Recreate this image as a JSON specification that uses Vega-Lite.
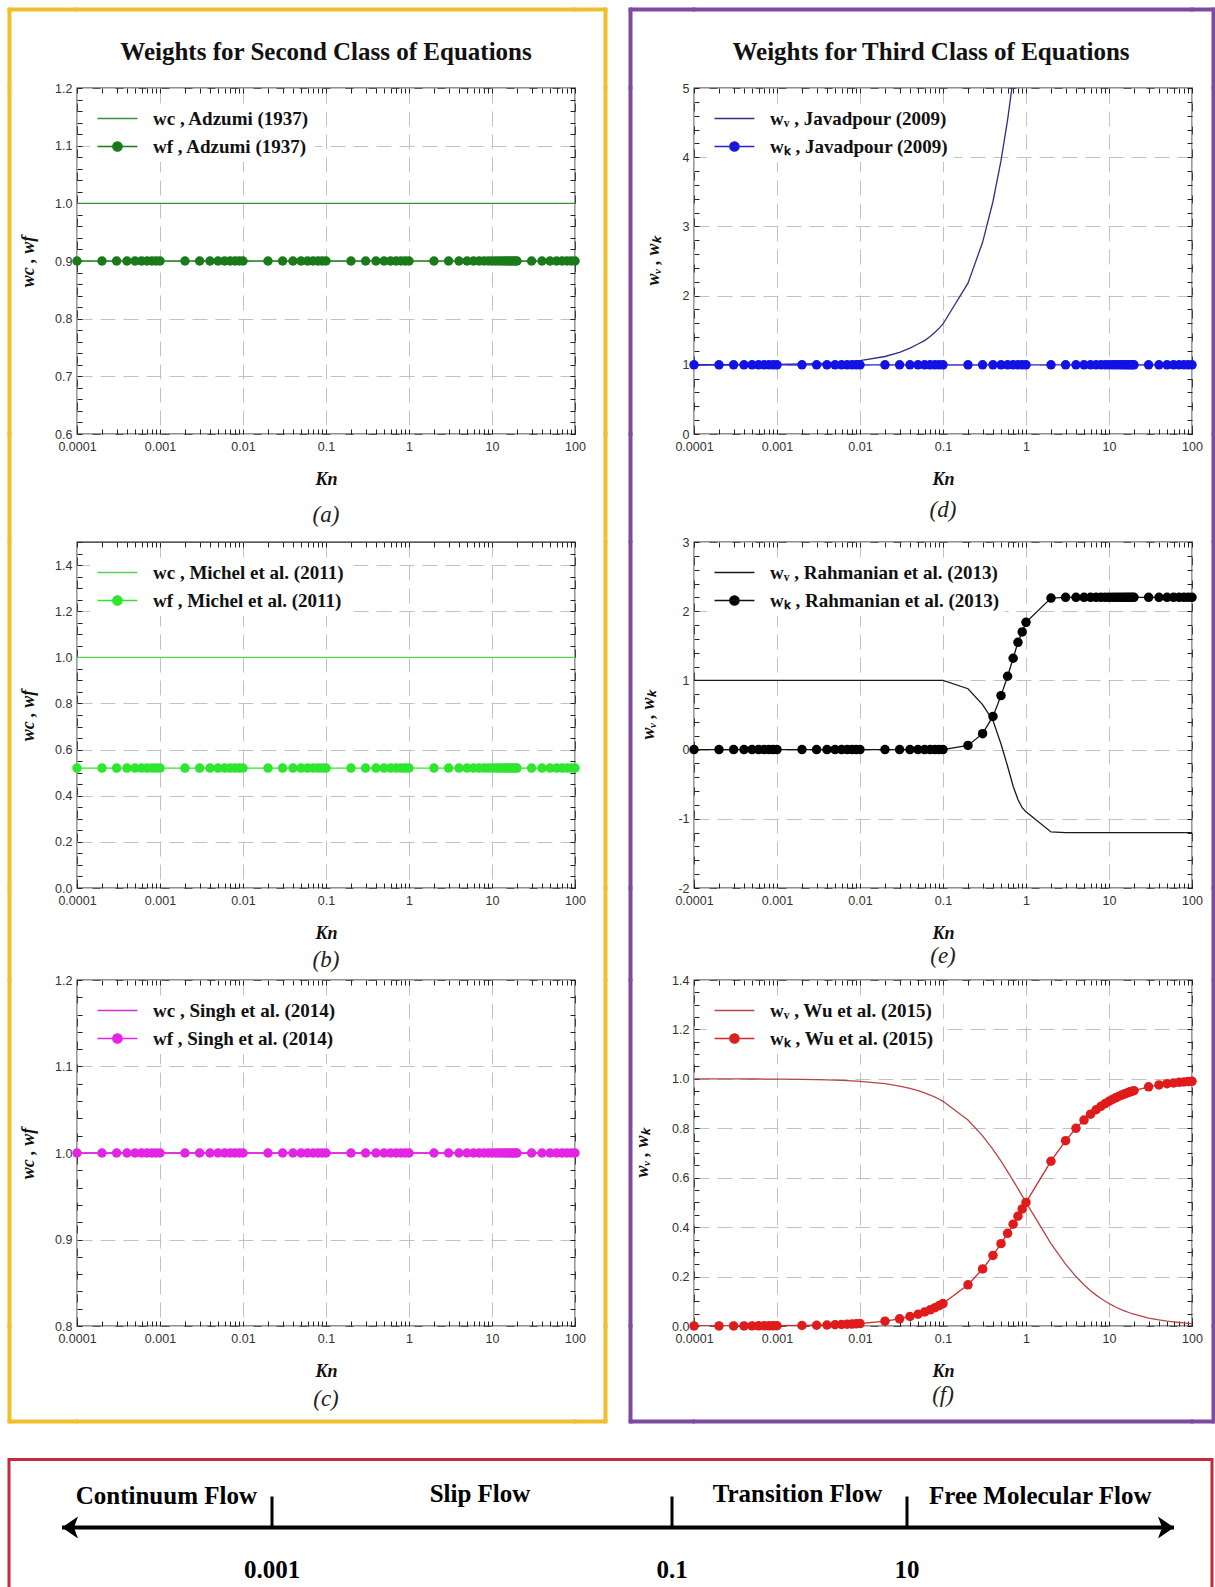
{
"$schema": "https://vega.github.io/schema/vega-lite/v6.json",
"padding": {"left": 7, "top": 7, "right": 0, "bottom": 0},
"background": "white",
"config": {
  "view": {"stroke": "#222", "strokeWidth": 1.3},
  "axis": {"domain": false, "labelFlush": false, "labelOverlap": false, "labelFont": "Liberation Sans", "labelFontSize": 12.5, "labelColor": "#333", "tickColor": "#222", "tickWidth": 1, "gridColor": "#c2c2c2", "gridDash": [15, 8], "gridWidth": 1, "titleFont": "Liberation Serif", "titleFontSize": 18, "titleFontWeight": "bold", "titleFontStyle": "italic", "titleColor": "#111"},
  "axisX": {"labelPadding": 6, "titlePadding": 18},
  "axisY": {"labelPadding": 5, "titlePadding": 10},
  "legend": {"padding": 5, "fillColor": "white", "labelFont": "Liberation Serif", "labelFontWeight": "bold", "labelFontSize": 19, "labelColor": "#111", "symbolSize": 196, "labelOffset": 39, "rowPadding": 8, "symbolStrokeWidth": 1.3, "labelLimit": 500},
  "title": {"font": "Liberation Serif"}
},
"datasets": {
  "kn": [
    {"Kn":0.0001,"a_wc":1,"a_wf":0.9,"b_wc":1,"b_wf":0.52,"c_wc":1,"c_wf":1,"d_wv":1.001,"d_wk":1,"e_wv":1,"e_wk":0,"f_wv":0.9999,"f_wk":0.0001},
    {"Kn":0.0002,"a_wc":1,"a_wf":0.9,"b_wc":1,"b_wf":0.52,"c_wc":1,"c_wf":1,"d_wv":1.001,"d_wk":1,"e_wv":1,"e_wk":0,"f_wv":0.9998,"f_wk":0.0002},
    {"Kn":0.0003,"a_wc":1,"a_wf":0.9,"b_wc":1,"b_wf":0.52,"c_wc":1,"c_wf":1,"d_wv":1.002,"d_wk":1,"e_wv":1,"e_wk":0,"f_wv":0.9997,"f_wk":0.0003},
    {"Kn":0.0004,"a_wc":1,"a_wf":0.9,"b_wc":1,"b_wf":0.52,"c_wc":1,"c_wf":1,"d_wv":1.002,"d_wk":1,"e_wv":1,"e_wk":0,"f_wv":0.9996,"f_wk":0.0004},
    {"Kn":0.0005,"a_wc":1,"a_wf":0.9,"b_wc":1,"b_wf":0.52,"c_wc":1,"c_wf":1,"d_wv":1.003,"d_wk":1,"e_wv":1,"e_wk":0,"f_wv":0.9995,"f_wk":0.0005},
    {"Kn":0.0006,"a_wc":1,"a_wf":0.9,"b_wc":1,"b_wf":0.52,"c_wc":1,"c_wf":1,"d_wv":1.004,"d_wk":1,"e_wv":1,"e_wk":0,"f_wv":0.9994,"f_wk":0.0006},
    {"Kn":0.0007,"a_wc":1,"a_wf":0.9,"b_wc":1,"b_wf":0.52,"c_wc":1,"c_wf":1,"d_wv":1.004,"d_wk":1,"e_wv":1,"e_wk":0,"f_wv":0.9993,"f_wk":0.0007},
    {"Kn":0.0008,"a_wc":1,"a_wf":0.9,"b_wc":1,"b_wf":0.52,"c_wc":1,"c_wf":1,"d_wv":1.005,"d_wk":1,"e_wv":1,"e_wk":0,"f_wv":0.9992,"f_wk":0.0008},
    {"Kn":0.0009,"a_wc":1,"a_wf":0.9,"b_wc":1,"b_wf":0.52,"c_wc":1,"c_wf":1,"d_wv":1.005,"d_wk":1,"e_wv":1,"e_wk":0,"f_wv":0.9991,"f_wk":0.0009},
    {"Kn":0.001,"a_wc":1,"a_wf":0.9,"b_wc":1,"b_wf":0.52,"c_wc":1,"c_wf":1,"d_wv":1.006,"d_wk":1,"e_wv":1,"e_wk":0,"f_wv":0.999,"f_wk":0.001},
    {"Kn":0.002,"a_wc":1,"a_wf":0.9,"b_wc":1,"b_wf":0.52,"c_wc":1,"c_wf":1,"d_wv":1.012,"d_wk":1,"e_wv":1,"e_wk":0,"f_wv":0.998,"f_wk":0.002},
    {"Kn":0.003,"a_wc":1,"a_wf":0.9,"b_wc":1,"b_wf":0.52,"c_wc":1,"c_wf":1,"d_wv":1.018,"d_wk":1,"e_wv":1,"e_wk":0,"f_wv":0.997,"f_wk":0.003},
    {"Kn":0.004,"a_wc":1,"a_wf":0.9,"b_wc":1,"b_wf":0.52,"c_wc":1,"c_wf":1,"d_wv":1.024,"d_wk":1,"e_wv":1,"e_wk":0,"f_wv":0.996,"f_wk":0.004},
    {"Kn":0.005,"a_wc":1,"a_wf":0.9,"b_wc":1,"b_wf":0.52,"c_wc":1,"c_wf":1,"d_wv":1.03,"d_wk":1,"e_wv":1,"e_wk":0,"f_wv":0.995,"f_wk":0.005},
    {"Kn":0.006,"a_wc":1,"a_wf":0.9,"b_wc":1,"b_wf":0.52,"c_wc":1,"c_wf":1,"d_wv":1.035,"d_wk":1,"e_wv":1,"e_wk":0,"f_wv":0.994,"f_wk":0.006},
    {"Kn":0.007,"a_wc":1,"a_wf":0.9,"b_wc":1,"b_wf":0.52,"c_wc":1,"c_wf":1,"d_wv":1.041,"d_wk":1,"e_wv":1,"e_wk":0,"f_wv":0.993,"f_wk":0.007},
    {"Kn":0.008,"a_wc":1,"a_wf":0.9,"b_wc":1,"b_wf":0.52,"c_wc":1,"c_wf":1,"d_wv":1.047,"d_wk":1,"e_wv":1,"e_wk":0,"f_wv":0.992,"f_wk":0.008},
    {"Kn":0.009,"a_wc":1,"a_wf":0.9,"b_wc":1,"b_wf":0.52,"c_wc":1,"c_wf":1,"d_wv":1.053,"d_wk":1,"e_wv":1,"e_wk":0,"f_wv":0.991,"f_wk":0.009},
    {"Kn":0.01,"a_wc":1,"a_wf":0.9,"b_wc":1,"b_wf":0.52,"c_wc":1,"c_wf":1,"d_wv":1.06,"d_wk":1,"e_wv":1,"e_wk":0,"f_wv":0.9901,"f_wk":0.0099},
    {"Kn":0.02,"a_wc":1,"a_wf":0.9,"b_wc":1,"b_wf":0.52,"c_wc":1,"c_wf":1,"d_wv":1.12,"d_wk":1,"e_wv":1,"e_wk":0,"f_wv":0.9804,"f_wk":0.0196},
    {"Kn":0.03,"a_wc":1,"a_wf":0.9,"b_wc":1,"b_wf":0.52,"c_wc":1,"c_wf":1,"d_wv":1.18,"d_wk":1,"e_wv":1,"e_wk":0,"f_wv":0.9709,"f_wk":0.0291},
    {"Kn":0.04,"a_wc":1,"a_wf":0.9,"b_wc":1,"b_wf":0.52,"c_wc":1,"c_wf":1,"d_wv":1.24,"d_wk":1,"e_wv":1,"e_wk":0,"f_wv":0.9615,"f_wk":0.0385},
    {"Kn":0.05,"a_wc":1,"a_wf":0.9,"b_wc":1,"b_wf":0.52,"c_wc":1,"c_wf":1,"d_wv":1.3,"d_wk":1,"e_wv":1,"e_wk":0,"f_wv":0.9524,"f_wk":0.0476},
    {"Kn":0.06,"a_wc":1,"a_wf":0.9,"b_wc":1,"b_wf":0.52,"c_wc":1,"c_wf":1,"d_wv":1.35,"d_wk":1,"e_wv":1,"e_wk":0,"f_wv":0.9434,"f_wk":0.0566},
    {"Kn":0.07,"a_wc":1,"a_wf":0.9,"b_wc":1,"b_wf":0.52,"c_wc":1,"c_wf":1,"d_wv":1.41,"d_wk":1,"e_wv":1,"e_wk":0,"f_wv":0.9346,"f_wk":0.0654},
    {"Kn":0.08,"a_wc":1,"a_wf":0.9,"b_wc":1,"b_wf":0.52,"c_wc":1,"c_wf":1,"d_wv":1.47,"d_wk":1,"e_wv":1,"e_wk":0,"f_wv":0.9259,"f_wk":0.0741},
    {"Kn":0.09,"a_wc":1,"a_wf":0.9,"b_wc":1,"b_wf":0.52,"c_wc":1,"c_wf":1,"d_wv":1.53,"d_wk":1,"e_wv":1,"e_wk":0,"f_wv":0.9174,"f_wk":0.0826},
    {"Kn":0.1,"a_wc":1,"a_wf":0.9,"b_wc":1,"b_wf":0.52,"c_wc":1,"c_wf":1,"d_wv":1.59,"d_wk":1,"e_wv":1,"e_wk":0,"f_wv":0.9091,"f_wk":0.0909},
    {"Kn":0.2,"a_wc":1,"a_wf":0.9,"b_wc":1,"b_wf":0.52,"c_wc":1,"c_wf":1,"d_wv":2.18,"d_wk":1,"e_wv":0.88,"e_wk":0.06,"f_wv":0.8333,"f_wk":0.1667},
    {"Kn":0.3,"a_wc":1,"a_wf":0.9,"b_wc":1,"b_wf":0.52,"c_wc":1,"c_wf":1,"d_wv":2.77,"d_wk":1,"e_wv":0.65,"e_wk":0.23,"f_wv":0.7692,"f_wk":0.2308},
    {"Kn":0.4,"a_wc":1,"a_wf":0.9,"b_wc":1,"b_wf":0.52,"c_wc":1,"c_wf":1,"d_wv":3.36,"d_wk":1,"e_wv":0.42,"e_wk":0.48,"f_wv":0.7143,"f_wk":0.2857},
    {"Kn":0.5,"a_wc":1,"a_wf":0.9,"b_wc":1,"b_wf":0.52,"c_wc":1,"c_wf":1,"d_wv":3.95,"d_wk":1,"e_wv":0.08,"e_wk":0.78,"f_wv":0.6667,"f_wk":0.3333},
    {"Kn":0.6,"a_wc":1,"a_wf":0.9,"b_wc":1,"b_wf":0.52,"c_wc":1,"c_wf":1,"d_wv":4.54,"d_wk":1,"e_wv":-0.24,"e_wk":1.06,"f_wv":0.625,"f_wk":0.375},
    {"Kn":0.7,"a_wc":1,"a_wf":0.9,"b_wc":1,"b_wf":0.52,"c_wc":1,"c_wf":1,"d_wv":5.13,"d_wk":1,"e_wv":-0.53,"e_wk":1.32,"f_wv":0.5882,"f_wk":0.4118},
    {"Kn":0.8,"a_wc":1,"a_wf":0.9,"b_wc":1,"b_wf":0.52,"c_wc":1,"c_wf":1,"d_wv":5.72,"d_wk":1,"e_wv":-0.72,"e_wk":1.55,"f_wv":0.5556,"f_wk":0.4444},
    {"Kn":0.9,"a_wc":1,"a_wf":0.9,"b_wc":1,"b_wf":0.52,"c_wc":1,"c_wf":1,"d_wv":null,"d_wk":1,"e_wv":-0.84,"e_wk":1.7,"f_wv":0.5263,"f_wk":0.4737},
    {"Kn":1,"a_wc":1,"a_wf":0.9,"b_wc":1,"b_wf":0.52,"c_wc":1,"c_wf":1,"d_wv":null,"d_wk":1,"e_wv":-0.9,"e_wk":1.84,"f_wv":0.5,"f_wk":0.5},
    {"Kn":2,"a_wc":1,"a_wf":0.9,"b_wc":1,"b_wf":0.52,"c_wc":1,"c_wf":1,"d_wv":null,"d_wk":1,"e_wv":-1.19,"e_wk":2.19,"f_wv":0.3333,"f_wk":0.6667},
    {"Kn":3,"a_wc":1,"a_wf":0.9,"b_wc":1,"b_wf":0.52,"c_wc":1,"c_wf":1,"d_wv":null,"d_wk":1,"e_wv":-1.2,"e_wk":2.2,"f_wv":0.25,"f_wk":0.75},
    {"Kn":4,"a_wc":1,"a_wf":0.9,"b_wc":1,"b_wf":0.52,"c_wc":1,"c_wf":1,"d_wv":null,"d_wk":1,"e_wv":-1.2,"e_wk":2.2,"f_wv":0.2,"f_wk":0.8},
    {"Kn":5,"a_wc":1,"a_wf":0.9,"b_wc":1,"b_wf":0.52,"c_wc":1,"c_wf":1,"d_wv":null,"d_wk":1,"e_wv":-1.2,"e_wk":2.2,"f_wv":0.1667,"f_wk":0.8333},
    {"Kn":6,"a_wc":1,"a_wf":0.9,"b_wc":1,"b_wf":0.52,"c_wc":1,"c_wf":1,"d_wv":null,"d_wk":1,"e_wv":-1.2,"e_wk":2.2,"f_wv":0.1429,"f_wk":0.8571},
    {"Kn":7,"a_wc":1,"a_wf":0.9,"b_wc":1,"b_wf":0.52,"c_wc":1,"c_wf":1,"d_wv":null,"d_wk":1,"e_wv":-1.2,"e_wk":2.2,"f_wv":0.125,"f_wk":0.875},
    {"Kn":8,"a_wc":1,"a_wf":0.9,"b_wc":1,"b_wf":0.52,"c_wc":1,"c_wf":1,"d_wv":null,"d_wk":1,"e_wv":-1.2,"e_wk":2.2,"f_wv":0.1111,"f_wk":0.8889},
    {"Kn":9,"a_wc":1,"a_wf":0.9,"b_wc":1,"b_wf":0.52,"c_wc":1,"c_wf":1,"d_wv":null,"d_wk":1,"e_wv":-1.2,"e_wk":2.2,"f_wv":0.1,"f_wk":0.9},
    {"Kn":10,"a_wc":1,"a_wf":0.9,"b_wc":1,"b_wf":0.52,"c_wc":1,"c_wf":1,"d_wv":null,"d_wk":1,"e_wv":-1.2,"e_wk":2.2,"f_wv":0.0909,"f_wk":0.9091},
    {"Kn":11,"a_wc":1,"a_wf":0.9,"b_wc":1,"b_wf":0.52,"c_wc":1,"c_wf":1,"d_wv":null,"d_wk":1,"e_wv":-1.2,"e_wk":2.2,"f_wv":0.0833,"f_wk":0.9167},
    {"Kn":12,"a_wc":1,"a_wf":0.9,"b_wc":1,"b_wf":0.52,"c_wc":1,"c_wf":1,"d_wv":null,"d_wk":1,"e_wv":-1.2,"e_wk":2.2,"f_wv":0.0769,"f_wk":0.9231},
    {"Kn":13,"a_wc":1,"a_wf":0.9,"b_wc":1,"b_wf":0.52,"c_wc":1,"c_wf":1,"d_wv":null,"d_wk":1,"e_wv":-1.2,"e_wk":2.2,"f_wv":0.0714,"f_wk":0.9286},
    {"Kn":14,"a_wc":1,"a_wf":0.9,"b_wc":1,"b_wf":0.52,"c_wc":1,"c_wf":1,"d_wv":null,"d_wk":1,"e_wv":-1.2,"e_wk":2.2,"f_wv":0.0667,"f_wk":0.9333},
    {"Kn":15,"a_wc":1,"a_wf":0.9,"b_wc":1,"b_wf":0.52,"c_wc":1,"c_wf":1,"d_wv":null,"d_wk":1,"e_wv":-1.2,"e_wk":2.2,"f_wv":0.0625,"f_wk":0.9375},
    {"Kn":16,"a_wc":1,"a_wf":0.9,"b_wc":1,"b_wf":0.52,"c_wc":1,"c_wf":1,"d_wv":null,"d_wk":1,"e_wv":-1.2,"e_wk":2.2,"f_wv":0.0588,"f_wk":0.9412},
    {"Kn":17,"a_wc":1,"a_wf":0.9,"b_wc":1,"b_wf":0.52,"c_wc":1,"c_wf":1,"d_wv":null,"d_wk":1,"e_wv":-1.2,"e_wk":2.2,"f_wv":0.0556,"f_wk":0.9444},
    {"Kn":18,"a_wc":1,"a_wf":0.9,"b_wc":1,"b_wf":0.52,"c_wc":1,"c_wf":1,"d_wv":null,"d_wk":1,"e_wv":-1.2,"e_wk":2.2,"f_wv":0.0526,"f_wk":0.9474},
    {"Kn":19,"a_wc":1,"a_wf":0.9,"b_wc":1,"b_wf":0.52,"c_wc":1,"c_wf":1,"d_wv":null,"d_wk":1,"e_wv":-1.2,"e_wk":2.2,"f_wv":0.05,"f_wk":0.95},
    {"Kn":20,"a_wc":1,"a_wf":0.9,"b_wc":1,"b_wf":0.52,"c_wc":1,"c_wf":1,"d_wv":null,"d_wk":1,"e_wv":-1.2,"e_wk":2.2,"f_wv":0.0476,"f_wk":0.9524},
    {"Kn":30,"a_wc":1,"a_wf":0.9,"b_wc":1,"b_wf":0.52,"c_wc":1,"c_wf":1,"d_wv":null,"d_wk":1,"e_wv":-1.2,"e_wk":2.2,"f_wv":0.0323,"f_wk":0.9677},
    {"Kn":40,"a_wc":1,"a_wf":0.9,"b_wc":1,"b_wf":0.52,"c_wc":1,"c_wf":1,"d_wv":null,"d_wk":1,"e_wv":-1.2,"e_wk":2.2,"f_wv":0.0244,"f_wk":0.9756},
    {"Kn":50,"a_wc":1,"a_wf":0.9,"b_wc":1,"b_wf":0.52,"c_wc":1,"c_wf":1,"d_wv":null,"d_wk":1,"e_wv":-1.2,"e_wk":2.2,"f_wv":0.0196,"f_wk":0.9804},
    {"Kn":60,"a_wc":1,"a_wf":0.9,"b_wc":1,"b_wf":0.52,"c_wc":1,"c_wf":1,"d_wv":null,"d_wk":1,"e_wv":-1.2,"e_wk":2.2,"f_wv":0.0164,"f_wk":0.9836},
    {"Kn":70,"a_wc":1,"a_wf":0.9,"b_wc":1,"b_wf":0.52,"c_wc":1,"c_wf":1,"d_wv":null,"d_wk":1,"e_wv":-1.2,"e_wk":2.2,"f_wv":0.0141,"f_wk":0.9859},
    {"Kn":80,"a_wc":1,"a_wf":0.9,"b_wc":1,"b_wf":0.52,"c_wc":1,"c_wf":1,"d_wv":null,"d_wk":1,"e_wv":-1.2,"e_wk":2.2,"f_wv":0.0123,"f_wk":0.9877},
    {"Kn":90,"a_wc":1,"a_wf":0.9,"b_wc":1,"b_wf":0.52,"c_wc":1,"c_wf":1,"d_wv":null,"d_wk":1,"e_wv":-1.2,"e_wk":2.2,"f_wv":0.011,"f_wk":0.989},
    {"Kn":100,"a_wc":1,"a_wf":0.9,"b_wc":1,"b_wf":0.52,"c_wc":1,"c_wf":1,"d_wv":null,"d_wk":1,"e_wv":-1.2,"e_wk":2.2,"f_wv":0.0099,"f_wk":0.9901}
  ],
  "thresholds": [{"Kn": 0.001, "label": "0.001"}, {"Kn": 0.1, "label": "0.1"}, {"Kn": 10, "label": "10"}],
  "regimes": [{"regime": "Continuum Flow", "Kn": 0.001}, {"regime": "Slip Flow", "Kn": 0.01}, {"regime": "Transition Flow", "Kn": 1}, {"regime": "Free Molecular Flow", "Kn": 10}],
  "arrow": [{"from": 0.00001, "to": 1000}],
  "heads": [{"Kn": 0.00001, "end": "left"}, {"Kn": 1000, "end": "right"}]
},
"resolve": {"scale": {"color": "independent", "shape": "independent"}},
"spacing": 33.5,
"vconcat": [
{"columns": 11, "bounds": "flush", "spacing": 0, "align": "each",
 "resolve": {"scale": {"color": "independent", "shape": "independent"}},
 "concat": [
  {"width": 1, "height": 1, "view": {"stroke": "#f2bf2c", "strokeWidth": 3}, "data": {"values": []}, "mark": "point"},
  {"width": 66.5, "height": 1, "view": {"stroke": "#f2bf2c", "strokeWidth": 3}, "data": {"values": []}, "mark": "point"},
  {"width": 498, "height": 1, "view": {"stroke": "#f2bf2c", "strokeWidth": 3}, "data": {"values": []}, "mark": "point",
   "title": {"text": "Weights for Second Class of Equations", "orient": "bottom", "anchor": "middle", "frame": "group", "offset": 30, "fontSize": 25, "fontWeight": "bold", "color": "#111"}},
  {"width": 29.5, "height": 1, "view": {"stroke": "#f2bf2c", "strokeWidth": 3}, "data": {"values": []}, "mark": "point"},
  {"width": 1, "height": 1, "view": {"stroke": "#f2bf2c", "strokeWidth": 3}, "data": {"values": []}, "mark": "point"},
  {"width": 24, "height": 1, "view": {"stroke": null}, "data": {"values": []}, "mark": "point"},
  {"width": 1, "height": 1, "view": {"stroke": "#7d4b9f", "strokeWidth": 3}, "data": {"values": []}, "mark": "point"},
  {"width": 62.5, "height": 1, "view": {"stroke": "#7d4b9f", "strokeWidth": 3}, "data": {"values": []}, "mark": "point"},
  {"width": 498, "height": 1, "view": {"stroke": "#7d4b9f", "strokeWidth": 3}, "data": {"values": []}, "mark": "point",
   "title": {"text": "Weights for Third Class of Equations", "orient": "bottom", "anchor": "middle", "frame": "group", "offset": 30, "dx": -12, "fontSize": 25, "fontWeight": "bold", "color": "#111"}},
  {"width": 20.5, "height": 1, "view": {"stroke": "#7d4b9f", "strokeWidth": 3}, "data": {"values": []}, "mark": "point"},
  {"width": 1, "height": 1, "view": {"stroke": "#7d4b9f", "strokeWidth": 3}, "data": {"values": []}, "mark": "point"},

  {"width": 1, "height": 77.5, "view": {"stroke": "#f2bf2c", "strokeWidth": 3}, "data": {"values": []}, "mark": "point"},
  {"width": 1, "height": 1, "view": {"stroke": null}, "data": {"values": []}, "mark": "point"},
  {"width": 1, "height": 1, "view": {"stroke": null}, "data": {"values": []}, "mark": "point"},
  {"width": 1, "height": 1, "view": {"stroke": null}, "data": {"values": []}, "mark": "point"},
  {"width": 1, "height": 77.5, "view": {"stroke": "#f2bf2c", "strokeWidth": 3}, "data": {"values": []}, "mark": "point"},
  {"width": 1, "height": 1, "view": {"stroke": null}, "data": {"values": []}, "mark": "point"},
  {"width": 1, "height": 77.5, "view": {"stroke": "#7d4b9f", "strokeWidth": 3}, "data": {"values": []}, "mark": "point"},
  {"width": 1, "height": 1, "view": {"stroke": null}, "data": {"values": []}, "mark": "point"},
  {"width": 1, "height": 1, "view": {"stroke": null}, "data": {"values": []}, "mark": "point"},
  {"width": 1, "height": 1, "view": {"stroke": null}, "data": {"values": []}, "mark": "point"},
  {"width": 1, "height": 77.5, "view": {"stroke": "#7d4b9f", "strokeWidth": 3}, "data": {"values": []}, "mark": "point"},

  {"width": 1, "height": 346, "view": {"stroke": "#f2bf2c", "strokeWidth": 3}, "data": {"values": []}, "mark": "point"},
  {"width": 1, "height": 1, "view": {"stroke": null}, "data": {"values": []}, "mark": "point"},
  {"width": 498, "height": 346,
    "title": {"text": "(a)", "orient": "bottom", "frame": "group", "anchor": "middle", "offset": 15, "fontStyle": "italic", "fontWeight": "normal", "fontSize": 23, "color": "#222"},
    "data": {"name": "kn"},
    "transform": [{"fold": ["a_wc", "a_wf"], "as": ["series", "w"]}],
    "layer": [
     {"mark": {"type": "line", "strokeWidth": 1.3, "clip": true},
      "encoding": {
       "x": {"field": "Kn", "type": "quantitative", "scale": {"type": "log", "domain": [0.0001, 100], "nice": false}, "axis": {"orient": "bottom", "values": [0.0001,0.001,0.01,0.1,1,10,100], "format": "~g", "ticks": false, "grid": true, "title": "Kn"}},
       "y": {"field": "w", "type": "quantitative", "scale": {"domain": [0.6, 1.2], "nice": false, "zero": false}, "axis": {"orient": "left", "values": [0.6,0.7,0.8,0.9,1,1.1,1.2], "format": ".1f", "ticks": false, "grid": true, "title": "wc , wf", "minExtent": 27, "maxExtent": 27, "titlePadding": 13}},
       "color": {"field": "series", "type": "nominal", "scale": {"domain": ["a_wc", "a_wf"], "range": ["#3b8f3b", "#1a7a1a"]},
        "legend": {"title": null, "orient": "none", "legendX": 13, "legendY": 16, "labelExpr": "datum.value == 'a_wc' ? 'wc , Adzumi (1937)' : 'wf , Adzumi (1937)'",
         "encode": {"symbols": {"update": {"shape": {"signal": "datum.value == 'a_wc' ? 'M-1,0H4.7' : 'M-1,0H4.7M2.52,0A0.67,0.67,0,1,1,1.18,0A0.67,0.67,0,1,1,2.52,0Z'"}, "fill": {"value": "#1a7a1a"}}}}}}
      }},
     {"transform": [{"filter": "datum.series == 'a_wf'"}],
      "mark": {"type": "point", "filled": true, "size": 90, "opacity": 1, "color": "#1a7a1a"},
      "encoding": {
       "x": {"field": "Kn", "type": "quantitative", "scale": {"type": "log", "domain": [0.0001, 100], "nice": false}, "axis": {"orient": "bottom", "values": [0.0001,0.0002,0.0003,0.0004,0.0005,0.0006,0.0007,0.0008,0.0009,0.001,0.002,0.003,0.004,0.005,0.006,0.007,0.008,0.009,0.01,0.02,0.03,0.04,0.05,0.06,0.07,0.08,0.09,0.1,0.2,0.3,0.4,0.5,0.6,0.7,0.8,0.9,1,2,3,4,5,6,7,8,9,10,20,30,40,50,60,70,80,90,100], "labels": false, "ticks": true, "tickSize": -5, "grid": false, "title": null}},
       "y": {"field": "w", "type": "quantitative", "scale": {"domain": [0.6, 1.2], "nice": false, "zero": false}, "axis": {"orient": "left", "values": [0.6,0.62,0.64,0.66,0.68,0.7,0.72,0.74,0.76,0.78,0.8,0.82,0.84,0.86,0.88,0.9,0.92,0.94,0.96,0.98,1,1.02,1.04,1.06,1.08,1.1,1.12,1.14,1.16,1.18,1.2], "labels": false, "ticks": true, "tickSize": -5, "grid": false, "title": null, "minExtent": 0, "maxExtent": 0}}
      }},
     {"mark": {"type": "point", "opacity": 0, "clip": true},
      "encoding": {
       "x": {"field": "Kn", "type": "quantitative", "scale": {"type": "log", "domain": [0.0001, 100], "nice": false}, "axis": {"orient": "top", "values": [0.0001,0.0002,0.0003,0.0004,0.0005,0.0006,0.0007,0.0008,0.0009,0.001,0.002,0.003,0.004,0.005,0.006,0.007,0.008,0.009,0.01,0.02,0.03,0.04,0.05,0.06,0.07,0.08,0.09,0.1,0.2,0.3,0.4,0.5,0.6,0.7,0.8,0.9,1,2,3,4,5,6,7,8,9,10,20,30,40,50,60,70,80,90,100], "labels": false, "ticks": true, "tickSize": -5, "grid": false, "title": null}},
       "y": {"field": "w", "type": "quantitative", "scale": {"domain": [0.6, 1.2], "nice": false, "zero": false}, "axis": {"orient": "right", "values": [0.6,0.62,0.64,0.66,0.68,0.7,0.72,0.74,0.76,0.78,0.8,0.82,0.84,0.86,0.88,0.9,0.92,0.94,0.96,0.98,1,1.02,1.04,1.06,1.08,1.1,1.12,1.14,1.16,1.18,1.2], "labels": false, "ticks": true, "tickSize": -5, "grid": false, "title": null, "minExtent": 0, "maxExtent": 0}}
      }}
    ],
    "resolve": {"axis": {"x": "independent", "y": "independent"}}
  },
  {"width": 1, "height": 1, "view": {"stroke": null}, "data": {"values": []}, "mark": "point"},
  {"width": 1, "height": 346, "view": {"stroke": "#f2bf2c", "strokeWidth": 3}, "data": {"values": []}, "mark": "point"},
  {"width": 1, "height": 1, "view": {"stroke": null}, "data": {"values": []}, "mark": "point"},
  {"width": 1, "height": 346, "view": {"stroke": "#7d4b9f", "strokeWidth": 3}, "data": {"values": []}, "mark": "point"},
  {"width": 1, "height": 1, "view": {"stroke": null}, "data": {"values": []}, "mark": "point"},
  {"width": 498, "height": 346,
    "title": {"text": "(d)", "orient": "bottom", "frame": "group", "anchor": "middle", "offset": 10, "fontStyle": "italic", "fontWeight": "normal", "fontSize": 23, "color": "#222"},
    "data": {"name": "kn"},
    "transform": [{"fold": ["d_wv", "d_wk"], "as": ["series", "w"]}],
    "layer": [
     {"mark": {"type": "line", "strokeWidth": 1.3, "clip": true},
      "encoding": {
       "x": {"field": "Kn", "type": "quantitative", "scale": {"type": "log", "domain": [0.0001, 100], "nice": false}, "axis": {"orient": "bottom", "values": [0.0001,0.001,0.01,0.1,1,10,100], "format": "~g", "ticks": false, "grid": true, "title": "Kn"}},
       "y": {"field": "w", "type": "quantitative", "scale": {"domain": [0, 5], "nice": false, "zero": false}, "axis": {"orient": "left", "values": [0,1,2,3,4,5], "labelExpr": "'' + datum.value", "ticks": false, "grid": true, "title": "wᵥ , wₖ", "minExtent": 0, "titlePadding": 20}},
       "color": {"field": "series", "type": "nominal", "scale": {"domain": ["d_wv", "d_wk"], "range": ["#2e2e82", "#2424c8"]},
        "legend": {"title": null, "orient": "none", "legendX": 13, "legendY": 16, "labelExpr": "datum.value == 'd_wv' ? 'wᵥ , Javadpour (2009)' : 'wₖ , Javadpour (2009)'",
         "encode": {"symbols": {"update": {"shape": {"signal": "datum.value == 'd_wv' ? 'M-1,0H4.7' : 'M-1,0H4.7M2.52,0A0.67,0.67,0,1,1,1.18,0A0.67,0.67,0,1,1,2.52,0Z'"}, "fill": {"value": "#1212e6"}}}}}}
      }},
     {"transform": [{"filter": "datum.series == 'd_wk'"}],
      "mark": {"type": "point", "filled": true, "size": 90, "opacity": 1, "color": "#1212e6"},
      "encoding": {
       "x": {"field": "Kn", "type": "quantitative", "scale": {"type": "log", "domain": [0.0001, 100], "nice": false}, "axis": {"orient": "bottom", "values": [0.0001,0.0002,0.0003,0.0004,0.0005,0.0006,0.0007,0.0008,0.0009,0.001,0.002,0.003,0.004,0.005,0.006,0.007,0.008,0.009,0.01,0.02,0.03,0.04,0.05,0.06,0.07,0.08,0.09,0.1,0.2,0.3,0.4,0.5,0.6,0.7,0.8,0.9,1,2,3,4,5,6,7,8,9,10,20,30,40,50,60,70,80,90,100], "labels": false, "ticks": true, "tickSize": -5, "grid": false, "title": null}},
       "y": {"field": "w", "type": "quantitative", "scale": {"domain": [0, 5], "nice": false, "zero": false}, "axis": {"orient": "left", "values": [0,0.2,0.4,0.6,0.8,1,1.2,1.4,1.6,1.8,2,2.2,2.4,2.6,2.8,3,3.2,3.4,3.6,3.8,4,4.2,4.4,4.6,4.8,5], "labels": false, "ticks": true, "tickSize": -5, "grid": false, "title": null, "minExtent": 0, "maxExtent": 0}}
      }},
     {"mark": {"type": "point", "opacity": 0, "clip": true},
      "encoding": {
       "x": {"field": "Kn", "type": "quantitative", "scale": {"type": "log", "domain": [0.0001, 100], "nice": false}, "axis": {"orient": "top", "values": [0.0001,0.0002,0.0003,0.0004,0.0005,0.0006,0.0007,0.0008,0.0009,0.001,0.002,0.003,0.004,0.005,0.006,0.007,0.008,0.009,0.01,0.02,0.03,0.04,0.05,0.06,0.07,0.08,0.09,0.1,0.2,0.3,0.4,0.5,0.6,0.7,0.8,0.9,1,2,3,4,5,6,7,8,9,10,20,30,40,50,60,70,80,90,100], "labels": false, "ticks": true, "tickSize": -5, "grid": false, "title": null}},
       "y": {"field": "w", "type": "quantitative", "scale": {"domain": [0, 5], "nice": false, "zero": false}, "axis": {"orient": "right", "values": [0,0.2,0.4,0.6,0.8,1,1.2,1.4,1.6,1.8,2,2.2,2.4,2.6,2.8,3,3.2,3.4,3.6,3.8,4,4.2,4.4,4.6,4.8,5], "labels": false, "ticks": true, "tickSize": -5, "grid": false, "title": null, "minExtent": 0, "maxExtent": 0}}
      }}
    ],
    "resolve": {"axis": {"x": "independent", "y": "independent"}}
  },
  {"width": 1, "height": 1, "view": {"stroke": null}, "data": {"values": []}, "mark": "point"},
  {"width": 1, "height": 346, "view": {"stroke": "#7d4b9f", "strokeWidth": 3}, "data": {"values": []}, "mark": "point"},

  {"width": 1, "height": 107.5, "view": {"stroke": "#f2bf2c", "strokeWidth": 3}, "data": {"values": []}, "mark": "point"},
  {"width": 1, "height": 1, "view": {"stroke": null}, "data": {"values": []}, "mark": "point"},
  {"width": 1, "height": 1, "view": {"stroke": null}, "data": {"values": []}, "mark": "point"},
  {"width": 1, "height": 1, "view": {"stroke": null}, "data": {"values": []}, "mark": "point"},
  {"width": 1, "height": 107.5, "view": {"stroke": "#f2bf2c", "strokeWidth": 3}, "data": {"values": []}, "mark": "point"},
  {"width": 1, "height": 1, "view": {"stroke": null}, "data": {"values": []}, "mark": "point"},
  {"width": 1, "height": 107.5, "view": {"stroke": "#7d4b9f", "strokeWidth": 3}, "data": {"values": []}, "mark": "point"},
  {"width": 1, "height": 1, "view": {"stroke": null}, "data": {"values": []}, "mark": "point"},
  {"width": 1, "height": 1, "view": {"stroke": null}, "data": {"values": []}, "mark": "point"},
  {"width": 1, "height": 1, "view": {"stroke": null}, "data": {"values": []}, "mark": "point"},
  {"width": 1, "height": 107.5, "view": {"stroke": "#7d4b9f", "strokeWidth": 3}, "data": {"values": []}, "mark": "point"},

  {"width": 1, "height": 346, "view": {"stroke": "#f2bf2c", "strokeWidth": 3}, "data": {"values": []}, "mark": "point"},
  {"width": 1, "height": 1, "view": {"stroke": null}, "data": {"values": []}, "mark": "point"},
  {"width": 498, "height": 346,
    "title": {"text": "(b)", "orient": "bottom", "frame": "group", "anchor": "middle", "offset": 6, "fontStyle": "italic", "fontWeight": "normal", "fontSize": 23, "color": "#222"},
    "data": {"name": "kn"},
    "transform": [{"fold": ["b_wc", "b_wf"], "as": ["series", "w"]}],
    "layer": [
     {"mark": {"type": "line", "strokeWidth": 1.3, "clip": true},
      "encoding": {
       "x": {"field": "Kn", "type": "quantitative", "scale": {"type": "log", "domain": [0.0001, 100], "nice": false}, "axis": {"orient": "bottom", "values": [0.0001,0.001,0.01,0.1,1,10,100], "format": "~g", "ticks": false, "grid": true, "title": "Kn"}},
       "y": {"field": "w", "type": "quantitative", "scale": {"domain": [0, 1.5], "nice": false, "zero": false}, "axis": {"orient": "left", "values": [0,0.2,0.4,0.6,0.8,1,1.2,1.4], "format": ".1f", "ticks": false, "grid": true, "title": "wc , wf", "minExtent": 27, "maxExtent": 27, "titlePadding": 13}},
       "color": {"field": "series", "type": "nominal", "scale": {"domain": ["b_wc", "b_wf"], "range": ["#4fd84f", "#2ee62e"]},
        "legend": {"title": null, "orient": "none", "legendX": 13, "legendY": 16, "labelExpr": "datum.value == 'b_wc' ? 'wc , Michel et al. (2011)' : 'wf , Michel et al. (2011)'",
         "encode": {"symbols": {"update": {"shape": {"signal": "datum.value == 'b_wc' ? 'M-1,0H4.7' : 'M-1,0H4.7M2.52,0A0.67,0.67,0,1,1,1.18,0A0.67,0.67,0,1,1,2.52,0Z'"}, "fill": {"value": "#2ee62e"}}}}}}
      }},
     {"transform": [{"filter": "datum.series == 'b_wf'"}],
      "mark": {"type": "point", "filled": true, "size": 90, "opacity": 1, "color": "#2ee62e"},
      "encoding": {
       "x": {"field": "Kn", "type": "quantitative", "scale": {"type": "log", "domain": [0.0001, 100], "nice": false}, "axis": {"orient": "bottom", "values": [0.0001,0.0002,0.0003,0.0004,0.0005,0.0006,0.0007,0.0008,0.0009,0.001,0.002,0.003,0.004,0.005,0.006,0.007,0.008,0.009,0.01,0.02,0.03,0.04,0.05,0.06,0.07,0.08,0.09,0.1,0.2,0.3,0.4,0.5,0.6,0.7,0.8,0.9,1,2,3,4,5,6,7,8,9,10,20,30,40,50,60,70,80,90,100], "labels": false, "ticks": true, "tickSize": -5, "grid": false, "title": null}},
       "y": {"field": "w", "type": "quantitative", "scale": {"domain": [0, 1.5], "nice": false, "zero": false}, "axis": {"orient": "left", "values": [0,0.05,0.1,0.15,0.2,0.25,0.3,0.35,0.4,0.45,0.5,0.55,0.6,0.65,0.7,0.75,0.8,0.85,0.9,0.95,1,1.05,1.1,1.15,1.2,1.25,1.3,1.35,1.4,1.45,1.5], "labels": false, "ticks": true, "tickSize": -5, "grid": false, "title": null, "minExtent": 0, "maxExtent": 0}}
      }},
     {"mark": {"type": "point", "opacity": 0, "clip": true},
      "encoding": {
       "x": {"field": "Kn", "type": "quantitative", "scale": {"type": "log", "domain": [0.0001, 100], "nice": false}, "axis": {"orient": "top", "values": [0.0001,0.0002,0.0003,0.0004,0.0005,0.0006,0.0007,0.0008,0.0009,0.001,0.002,0.003,0.004,0.005,0.006,0.007,0.008,0.009,0.01,0.02,0.03,0.04,0.05,0.06,0.07,0.08,0.09,0.1,0.2,0.3,0.4,0.5,0.6,0.7,0.8,0.9,1,2,3,4,5,6,7,8,9,10,20,30,40,50,60,70,80,90,100], "labels": false, "ticks": true, "tickSize": -5, "grid": false, "title": null}},
       "y": {"field": "w", "type": "quantitative", "scale": {"domain": [0, 1.5], "nice": false, "zero": false}, "axis": {"orient": "right", "values": [0,0.05,0.1,0.15,0.2,0.25,0.3,0.35,0.4,0.45,0.5,0.55,0.6,0.65,0.7,0.75,0.8,0.85,0.9,0.95,1,1.05,1.1,1.15,1.2,1.25,1.3,1.35,1.4,1.45,1.5], "labels": false, "ticks": true, "tickSize": -5, "grid": false, "title": null, "minExtent": 0, "maxExtent": 0}}
      }}
    ],
    "resolve": {"axis": {"x": "independent", "y": "independent"}}
  },
  {"width": 1, "height": 1, "view": {"stroke": null}, "data": {"values": []}, "mark": "point"},
  {"width": 1, "height": 346, "view": {"stroke": "#f2bf2c", "strokeWidth": 3}, "data": {"values": []}, "mark": "point"},
  {"width": 1, "height": 1, "view": {"stroke": null}, "data": {"values": []}, "mark": "point"},
  {"width": 1, "height": 346, "view": {"stroke": "#7d4b9f", "strokeWidth": 3}, "data": {"values": []}, "mark": "point"},
  {"width": 1, "height": 1, "view": {"stroke": null}, "data": {"values": []}, "mark": "point"},
  {"width": 498, "height": 346,
    "title": {"text": "(e)", "orient": "bottom", "frame": "group", "anchor": "middle", "offset": 2, "fontStyle": "italic", "fontWeight": "normal", "fontSize": 23, "color": "#222"},
    "data": {"name": "kn"},
    "transform": [{"fold": ["e_wv", "e_wk"], "as": ["series", "w"]}],
    "layer": [
     {"mark": {"type": "line", "strokeWidth": 1.3, "clip": true},
      "encoding": {
       "x": {"field": "Kn", "type": "quantitative", "scale": {"type": "log", "domain": [0.0001, 100], "nice": false}, "axis": {"orient": "bottom", "values": [0.0001,0.001,0.01,0.1,1,10,100], "format": "~g", "ticks": false, "grid": true, "title": "Kn"}},
       "y": {"field": "w", "type": "quantitative", "scale": {"domain": [-2, 3], "nice": false, "zero": false}, "axis": {"orient": "left", "values": [-2,-1,0,1,2,3], "labelExpr": "'' + datum.value", "ticks": false, "grid": true, "title": "wᵥ , wₖ", "minExtent": 0, "titlePadding": 20}},
       "color": {"field": "series", "type": "nominal", "scale": {"domain": ["e_wv", "e_wk"], "range": ["#1a1a1a", "#111111"]},
        "legend": {"title": null, "orient": "none", "legendX": 13, "legendY": 16, "labelExpr": "datum.value == 'e_wv' ? 'wᵥ , Rahmanian et al. (2013)' : 'wₖ , Rahmanian et al. (2013)'",
         "encode": {"symbols": {"update": {"shape": {"signal": "datum.value == 'e_wv' ? 'M-1,0H4.7' : 'M-1,0H4.7M2.52,0A0.67,0.67,0,1,1,1.18,0A0.67,0.67,0,1,1,2.52,0Z'"}, "fill": {"value": "#000000"}}}}}}
      }},
     {"transform": [{"filter": "datum.series == 'e_wk'"}],
      "mark": {"type": "point", "filled": true, "size": 90, "opacity": 1, "color": "#000000"},
      "encoding": {
       "x": {"field": "Kn", "type": "quantitative", "scale": {"type": "log", "domain": [0.0001, 100], "nice": false}, "axis": {"orient": "bottom", "values": [0.0001,0.0002,0.0003,0.0004,0.0005,0.0006,0.0007,0.0008,0.0009,0.001,0.002,0.003,0.004,0.005,0.006,0.007,0.008,0.009,0.01,0.02,0.03,0.04,0.05,0.06,0.07,0.08,0.09,0.1,0.2,0.3,0.4,0.5,0.6,0.7,0.8,0.9,1,2,3,4,5,6,7,8,9,10,20,30,40,50,60,70,80,90,100], "labels": false, "ticks": true, "tickSize": -5, "grid": false, "title": null}},
       "y": {"field": "w", "type": "quantitative", "scale": {"domain": [-2, 3], "nice": false, "zero": false}, "axis": {"orient": "left", "values": [-2,-1.8,-1.6,-1.4,-1.2,-1,-0.8,-0.6,-0.4,-0.2,0,0.2,0.4,0.6,0.8,1,1.2,1.4,1.6,1.8,2,2.2,2.4,2.6,2.8,3], "labels": false, "ticks": true, "tickSize": -5, "grid": false, "title": null, "minExtent": 0, "maxExtent": 0}}
      }},
     {"mark": {"type": "point", "opacity": 0, "clip": true},
      "encoding": {
       "x": {"field": "Kn", "type": "quantitative", "scale": {"type": "log", "domain": [0.0001, 100], "nice": false}, "axis": {"orient": "top", "values": [0.0001,0.0002,0.0003,0.0004,0.0005,0.0006,0.0007,0.0008,0.0009,0.001,0.002,0.003,0.004,0.005,0.006,0.007,0.008,0.009,0.01,0.02,0.03,0.04,0.05,0.06,0.07,0.08,0.09,0.1,0.2,0.3,0.4,0.5,0.6,0.7,0.8,0.9,1,2,3,4,5,6,7,8,9,10,20,30,40,50,60,70,80,90,100], "labels": false, "ticks": true, "tickSize": -5, "grid": false, "title": null}},
       "y": {"field": "w", "type": "quantitative", "scale": {"domain": [-2, 3], "nice": false, "zero": false}, "axis": {"orient": "right", "values": [-2,-1.8,-1.6,-1.4,-1.2,-1,-0.8,-0.6,-0.4,-0.2,0,0.2,0.4,0.6,0.8,1,1.2,1.4,1.6,1.8,2,2.2,2.4,2.6,2.8,3], "labels": false, "ticks": true, "tickSize": -5, "grid": false, "title": null, "minExtent": 0, "maxExtent": 0}}
      }}
    ],
    "resolve": {"axis": {"x": "independent", "y": "independent"}}
  },
  {"width": 1, "height": 1, "view": {"stroke": null}, "data": {"values": []}, "mark": "point"},
  {"width": 1, "height": 346, "view": {"stroke": "#7d4b9f", "strokeWidth": 3}, "data": {"values": []}, "mark": "point"},

  {"width": 1, "height": 91.5, "view": {"stroke": "#f2bf2c", "strokeWidth": 3}, "data": {"values": []}, "mark": "point"},
  {"width": 1, "height": 1, "view": {"stroke": null}, "data": {"values": []}, "mark": "point"},
  {"width": 1, "height": 1, "view": {"stroke": null}, "data": {"values": []}, "mark": "point"},
  {"width": 1, "height": 1, "view": {"stroke": null}, "data": {"values": []}, "mark": "point"},
  {"width": 1, "height": 91.5, "view": {"stroke": "#f2bf2c", "strokeWidth": 3}, "data": {"values": []}, "mark": "point"},
  {"width": 1, "height": 1, "view": {"stroke": null}, "data": {"values": []}, "mark": "point"},
  {"width": 1, "height": 91.5, "view": {"stroke": "#7d4b9f", "strokeWidth": 3}, "data": {"values": []}, "mark": "point"},
  {"width": 1, "height": 1, "view": {"stroke": null}, "data": {"values": []}, "mark": "point"},
  {"width": 1, "height": 1, "view": {"stroke": null}, "data": {"values": []}, "mark": "point"},
  {"width": 1, "height": 1, "view": {"stroke": null}, "data": {"values": []}, "mark": "point"},
  {"width": 1, "height": 91.5, "view": {"stroke": "#7d4b9f", "strokeWidth": 3}, "data": {"values": []}, "mark": "point"},

  {"width": 1, "height": 346, "view": {"stroke": "#f2bf2c", "strokeWidth": 3}, "data": {"values": []}, "mark": "point"},
  {"width": 1, "height": 1, "view": {"stroke": null}, "data": {"values": []}, "mark": "point"},
  {"width": 498, "height": 346,
    "title": {"text": "(c)", "orient": "bottom", "frame": "group", "anchor": "middle", "offset": 7, "fontStyle": "italic", "fontWeight": "normal", "fontSize": 23, "color": "#222"},
    "data": {"name": "kn"},
    "transform": [{"fold": ["c_wc", "c_wf"], "as": ["series", "w"]}],
    "layer": [
     {"mark": {"type": "line", "strokeWidth": 1.3, "clip": true},
      "encoding": {
       "x": {"field": "Kn", "type": "quantitative", "scale": {"type": "log", "domain": [0.0001, 100], "nice": false}, "axis": {"orient": "bottom", "values": [0.0001,0.001,0.01,0.1,1,10,100], "format": "~g", "ticks": false, "grid": true, "title": "Kn"}},
       "y": {"field": "w", "type": "quantitative", "scale": {"domain": [0.8, 1.2], "nice": false, "zero": false}, "axis": {"orient": "left", "values": [0.8,0.9,1,1.1,1.2], "format": ".1f", "ticks": false, "grid": true, "title": "wc , wf", "minExtent": 27, "maxExtent": 27, "titlePadding": 13}},
       "color": {"field": "series", "type": "nominal", "scale": {"domain": ["c_wc", "c_wf"], "range": ["#d62ed6", "#e424e4"]},
        "legend": {"title": null, "orient": "none", "legendX": 13, "legendY": 16, "labelExpr": "datum.value == 'c_wc' ? 'wc , Singh et al. (2014)' : 'wf , Singh et al. (2014)'",
         "encode": {"symbols": {"update": {"shape": {"signal": "datum.value == 'c_wc' ? 'M-1,0H4.7' : 'M-1,0H4.7M2.52,0A0.67,0.67,0,1,1,1.18,0A0.67,0.67,0,1,1,2.52,0Z'"}, "fill": {"value": "#e424e4"}}}}}}
      }},
     {"transform": [{"filter": "datum.series == 'c_wf'"}],
      "mark": {"type": "point", "filled": true, "size": 90, "opacity": 1, "color": "#e424e4"},
      "encoding": {
       "x": {"field": "Kn", "type": "quantitative", "scale": {"type": "log", "domain": [0.0001, 100], "nice": false}, "axis": {"orient": "bottom", "values": [0.0001,0.0002,0.0003,0.0004,0.0005,0.0006,0.0007,0.0008,0.0009,0.001,0.002,0.003,0.004,0.005,0.006,0.007,0.008,0.009,0.01,0.02,0.03,0.04,0.05,0.06,0.07,0.08,0.09,0.1,0.2,0.3,0.4,0.5,0.6,0.7,0.8,0.9,1,2,3,4,5,6,7,8,9,10,20,30,40,50,60,70,80,90,100], "labels": false, "ticks": true, "tickSize": -5, "grid": false, "title": null}},
       "y": {"field": "w", "type": "quantitative", "scale": {"domain": [0.8, 1.2], "nice": false, "zero": false}, "axis": {"orient": "left", "values": [0.8,0.82,0.84,0.86,0.88,0.9,0.92,0.94,0.96,0.98,1,1.02,1.04,1.06,1.08,1.1,1.12,1.14,1.16,1.18,1.2], "labels": false, "ticks": true, "tickSize": -5, "grid": false, "title": null, "minExtent": 0, "maxExtent": 0}}
      }},
     {"mark": {"type": "point", "opacity": 0, "clip": true},
      "encoding": {
       "x": {"field": "Kn", "type": "quantitative", "scale": {"type": "log", "domain": [0.0001, 100], "nice": false}, "axis": {"orient": "top", "values": [0.0001,0.0002,0.0003,0.0004,0.0005,0.0006,0.0007,0.0008,0.0009,0.001,0.002,0.003,0.004,0.005,0.006,0.007,0.008,0.009,0.01,0.02,0.03,0.04,0.05,0.06,0.07,0.08,0.09,0.1,0.2,0.3,0.4,0.5,0.6,0.7,0.8,0.9,1,2,3,4,5,6,7,8,9,10,20,30,40,50,60,70,80,90,100], "labels": false, "ticks": true, "tickSize": -5, "grid": false, "title": null}},
       "y": {"field": "w", "type": "quantitative", "scale": {"domain": [0.8, 1.2], "nice": false, "zero": false}, "axis": {"orient": "right", "values": [0.8,0.82,0.84,0.86,0.88,0.9,0.92,0.94,0.96,0.98,1,1.02,1.04,1.06,1.08,1.1,1.12,1.14,1.16,1.18,1.2], "labels": false, "ticks": true, "tickSize": -5, "grid": false, "title": null, "minExtent": 0, "maxExtent": 0}}
      }}
    ],
    "resolve": {"axis": {"x": "independent", "y": "independent"}}
  },
  {"width": 1, "height": 1, "view": {"stroke": null}, "data": {"values": []}, "mark": "point"},
  {"width": 1, "height": 346, "view": {"stroke": "#f2bf2c", "strokeWidth": 3}, "data": {"values": []}, "mark": "point"},
  {"width": 1, "height": 1, "view": {"stroke": null}, "data": {"values": []}, "mark": "point"},
  {"width": 1, "height": 346, "view": {"stroke": "#7d4b9f", "strokeWidth": 3}, "data": {"values": []}, "mark": "point"},
  {"width": 1, "height": 1, "view": {"stroke": null}, "data": {"values": []}, "mark": "point"},
  {"width": 498, "height": 346,
    "title": {"text": "(f)", "orient": "bottom", "frame": "group", "anchor": "middle", "offset": 3, "fontStyle": "italic", "fontWeight": "normal", "fontSize": 23, "color": "#222"},
    "data": {"name": "kn"},
    "transform": [{"fold": ["f_wv", "f_wk"], "as": ["series", "w"]}],
    "layer": [
     {"mark": {"type": "line", "strokeWidth": 1.3, "clip": true},
      "encoding": {
       "x": {"field": "Kn", "type": "quantitative", "scale": {"type": "log", "domain": [0.0001, 100], "nice": false}, "axis": {"orient": "bottom", "values": [0.0001,0.001,0.01,0.1,1,10,100], "format": "~g", "ticks": false, "grid": true, "title": "Kn"}},
       "y": {"field": "w", "type": "quantitative", "scale": {"domain": [0, 1.4], "nice": false, "zero": false}, "axis": {"orient": "left", "values": [0,0.2,0.4,0.6,0.8,1,1.2,1.4], "format": ".1f", "ticks": false, "grid": true, "title": "wᵥ , wₖ", "minExtent": 0, "titlePadding": 20}},
       "color": {"field": "series", "type": "nominal", "scale": {"domain": ["f_wv", "f_wk"], "range": ["#b84545", "#cf2a2a"]},
        "legend": {"title": null, "orient": "none", "legendX": 13, "legendY": 16, "labelExpr": "datum.value == 'f_wv' ? 'wᵥ , Wu et al. (2015)' : 'wₖ , Wu et al. (2015)'",
         "encode": {"symbols": {"update": {"shape": {"signal": "datum.value == 'f_wv' ? 'M-1,0H4.7' : 'M-1,0H4.7M2.52,0A0.67,0.67,0,1,1,1.18,0A0.67,0.67,0,1,1,2.52,0Z'"}, "fill": {"value": "#e01b1b"}}}}}}
      }},
     {"transform": [{"filter": "datum.series == 'f_wk'"}],
      "mark": {"type": "point", "filled": true, "size": 90, "opacity": 1, "color": "#e01b1b"},
      "encoding": {
       "x": {"field": "Kn", "type": "quantitative", "scale": {"type": "log", "domain": [0.0001, 100], "nice": false}, "axis": {"orient": "bottom", "values": [0.0001,0.0002,0.0003,0.0004,0.0005,0.0006,0.0007,0.0008,0.0009,0.001,0.002,0.003,0.004,0.005,0.006,0.007,0.008,0.009,0.01,0.02,0.03,0.04,0.05,0.06,0.07,0.08,0.09,0.1,0.2,0.3,0.4,0.5,0.6,0.7,0.8,0.9,1,2,3,4,5,6,7,8,9,10,20,30,40,50,60,70,80,90,100], "labels": false, "ticks": true, "tickSize": -5, "grid": false, "title": null}},
       "y": {"field": "w", "type": "quantitative", "scale": {"domain": [0, 1.4], "nice": false, "zero": false}, "axis": {"orient": "left", "values": [0,0.05,0.1,0.15,0.2,0.25,0.3,0.35,0.4,0.45,0.5,0.55,0.6,0.65,0.7,0.75,0.8,0.85,0.9,0.95,1,1.05,1.1,1.15,1.2,1.25,1.3,1.35,1.4], "labels": false, "ticks": true, "tickSize": -5, "grid": false, "title": null, "minExtent": 0, "maxExtent": 0}}
      }},
     {"mark": {"type": "point", "opacity": 0, "clip": true},
      "encoding": {
       "x": {"field": "Kn", "type": "quantitative", "scale": {"type": "log", "domain": [0.0001, 100], "nice": false}, "axis": {"orient": "top", "values": [0.0001,0.0002,0.0003,0.0004,0.0005,0.0006,0.0007,0.0008,0.0009,0.001,0.002,0.003,0.004,0.005,0.006,0.007,0.008,0.009,0.01,0.02,0.03,0.04,0.05,0.06,0.07,0.08,0.09,0.1,0.2,0.3,0.4,0.5,0.6,0.7,0.8,0.9,1,2,3,4,5,6,7,8,9,10,20,30,40,50,60,70,80,90,100], "labels": false, "ticks": true, "tickSize": -5, "grid": false, "title": null}},
       "y": {"field": "w", "type": "quantitative", "scale": {"domain": [0, 1.4], "nice": false, "zero": false}, "axis": {"orient": "right", "values": [0,0.05,0.1,0.15,0.2,0.25,0.3,0.35,0.4,0.45,0.5,0.55,0.6,0.65,0.7,0.75,0.8,0.85,0.9,0.95,1,1.05,1.1,1.15,1.2,1.25,1.3,1.35,1.4], "labels": false, "ticks": true, "tickSize": -5, "grid": false, "title": null, "minExtent": 0, "maxExtent": 0}}
      }}
    ],
    "resolve": {"axis": {"x": "independent", "y": "independent"}}
  },
  {"width": 1, "height": 1, "view": {"stroke": null}, "data": {"values": []}, "mark": "point"},
  {"width": 1, "height": 346, "view": {"stroke": "#7d4b9f", "strokeWidth": 3}, "data": {"values": []}, "mark": "point"},

  {"width": 1, "height": 94.5, "view": {"stroke": "#f2bf2c", "strokeWidth": 3}, "data": {"values": []}, "mark": "point"},
  {"width": 1, "height": 1, "view": {"stroke": null}, "data": {"values": []}, "mark": "point"},
  {"width": 1, "height": 1, "view": {"stroke": null}, "data": {"values": []}, "mark": "point"},
  {"width": 1, "height": 1, "view": {"stroke": null}, "data": {"values": []}, "mark": "point"},
  {"width": 1, "height": 94.5, "view": {"stroke": "#f2bf2c", "strokeWidth": 3}, "data": {"values": []}, "mark": "point"},
  {"width": 1, "height": 1, "view": {"stroke": null}, "data": {"values": []}, "mark": "point"},
  {"width": 1, "height": 94.5, "view": {"stroke": "#7d4b9f", "strokeWidth": 3}, "data": {"values": []}, "mark": "point"},
  {"width": 1, "height": 1, "view": {"stroke": null}, "data": {"values": []}, "mark": "point"},
  {"width": 1, "height": 1, "view": {"stroke": null}, "data": {"values": []}, "mark": "point"},
  {"width": 1, "height": 1, "view": {"stroke": null}, "data": {"values": []}, "mark": "point"},
  {"width": 1, "height": 94.5, "view": {"stroke": "#7d4b9f", "strokeWidth": 3}, "data": {"values": []}, "mark": "point"},

  {"width": 1, "height": 1, "view": {"stroke": "#f2bf2c", "strokeWidth": 3}, "data": {"values": []}, "mark": "point"},
  {"width": 66.5, "height": 1, "view": {"stroke": "#f2bf2c", "strokeWidth": 3}, "data": {"values": []}, "mark": "point"},
  {"width": 498, "height": 1, "view": {"stroke": "#f2bf2c", "strokeWidth": 3}, "data": {"values": []}, "mark": "point"},
  {"width": 29.5, "height": 1, "view": {"stroke": "#f2bf2c", "strokeWidth": 3}, "data": {"values": []}, "mark": "point"},
  {"width": 1, "height": 1, "view": {"stroke": "#f2bf2c", "strokeWidth": 3}, "data": {"values": []}, "mark": "point"},
  {"width": 24, "height": 1, "view": {"stroke": null}, "data": {"values": []}, "mark": "point"},
  {"width": 1, "height": 1, "view": {"stroke": "#7d4b9f", "strokeWidth": 3}, "data": {"values": []}, "mark": "point"},
  {"width": 62.5, "height": 1, "view": {"stroke": "#7d4b9f", "strokeWidth": 3}, "data": {"values": []}, "mark": "point"},
  {"width": 498, "height": 1, "view": {"stroke": "#7d4b9f", "strokeWidth": 3}, "data": {"values": []}, "mark": "point"},
  {"width": 20.5, "height": 1, "view": {"stroke": "#7d4b9f", "strokeWidth": 3}, "data": {"values": []}, "mark": "point"},
  {"width": 1, "height": 1, "view": {"stroke": "#7d4b9f", "strokeWidth": 3}, "data": {"values": []}, "mark": "point"}
 ]
},
{"width": 1203, "height": 129,
 "view": {"stroke": "#c62a3a", "strokeWidth": 3},
 "layer": [
  {"data": {"name": "arrow"},
   "mark": {"type": "rule", "strokeWidth": 4, "color": "#000"},
   "encoding": {
    "x": {"field": "from", "type": "quantitative", "scale": {"type": "log", "domain": [0.00001, 0.001, 0.1, 10, 1000], "range": [53, 263, 663, 898, 1165], "nice": false}, "axis": null},
    "x2": {"field": "to"},
    "y": {"datum": 68, "type": "quantitative", "scale": {"domain": [0, 129], "reverse": true, "nice": false, "zero": false}, "axis": null}}},
  {"data": {"name": "heads"},
   "mark": {"type": "point", "filled": true, "size": 400, "opacity": 1, "color": "#000"},
   "encoding": {
    "x": {"field": "Kn", "type": "quantitative", "scale": {"type": "log", "domain": [0.00001, 0.001, 0.1, 10, 1000], "range": [53, 263, 663, 898, 1165], "nice": false}, "axis": null},
    "y": {"datum": 68, "type": "quantitative", "scale": {"domain": [0, 129], "reverse": true, "nice": false, "zero": false}, "axis": null},
    "shape": {"field": "end", "type": "nominal", "scale": {"domain": ["left", "right"], "range": ["M0,0L1.6,-1.1L1.2,0L1.6,1.1Z", "M0,0L-1.6,-1.1L-1.2,0L-1.6,1.1Z"]}, "legend": null}}},
  {"data": {"name": "thresholds"},
   "mark": {"type": "rule", "strokeWidth": 3, "color": "#000"},
   "encoding": {
    "x": {"field": "Kn", "type": "quantitative", "scale": {"type": "log", "domain": [0.00001, 0.001, 0.1, 10, 1000], "range": [53, 263, 663, 898, 1165], "nice": false}, "axis": null},
    "y": {"datum": 37, "type": "quantitative", "scale": {"domain": [0, 129], "reverse": true, "nice": false, "zero": false}, "axis": null},
    "y2": {"datum": 68}}},
  {"data": {"name": "thresholds"},
   "mark": {"type": "text", "font": "Liberation Serif", "fontWeight": "bold", "fontSize": 25, "color": "#000", "baseline": "middle"},
   "encoding": {
    "x": {"field": "Kn", "type": "quantitative", "scale": {"type": "log", "domain": [0.00001, 0.001, 0.1, 10, 1000], "range": [53, 263, 663, 898, 1165], "nice": false}, "axis": null},
    "y": {"datum": 110, "type": "quantitative", "scale": {"domain": [0, 129], "reverse": true, "nice": false, "zero": false}, "axis": null},
    "text": {"field": "label"}}},
  {"data": {"name": "regimes"},
   "transform": [{"filter": "datum.regime == 'Continuum Flow'"}],
   "mark": {"type": "text", "font": "Liberation Serif", "fontWeight": "bold", "fontSize": 25, "color": "#000", "baseline": "middle", "align": "right", "dx": -15},
   "encoding": {
    "x": {"field": "Kn", "type": "quantitative", "scale": {"type": "log", "domain": [0.00001, 0.001, 0.1, 10, 1000], "range": [53, 263, 663, 898, 1165], "nice": false}, "axis": null},
    "y": {"datum": 36, "type": "quantitative", "scale": {"domain": [0, 129], "reverse": true, "nice": false, "zero": false}, "axis": null},
    "text": {"field": "regime"}}},
  {"data": {"name": "regimes"},
   "transform": [{"filter": "datum.regime == 'Slip Flow' || datum.regime == 'Transition Flow'"}],
   "mark": {"type": "text", "font": "Liberation Serif", "fontWeight": "bold", "fontSize": 25, "color": "#000", "baseline": "middle", "align": "center", "dx": 8},
   "encoding": {
    "x": {"field": "Kn", "type": "quantitative", "scale": {"type": "log", "domain": [0.00001, 0.001, 0.1, 10, 1000], "range": [53, 263, 663, 898, 1165], "nice": false}, "axis": null},
    "y": {"datum": 34, "type": "quantitative", "scale": {"domain": [0, 129], "reverse": true, "nice": false, "zero": false}, "axis": null},
    "text": {"field": "regime"}}},
  {"data": {"name": "regimes"},
   "transform": [{"filter": "datum.regime == 'Free Molecular Flow'"}],
   "mark": {"type": "text", "font": "Liberation Serif", "fontWeight": "bold", "fontSize": 25, "color": "#000", "baseline": "middle", "align": "left", "dx": 22},
   "encoding": {
    "x": {"field": "Kn", "type": "quantitative", "scale": {"type": "log", "domain": [0.00001, 0.001, 0.1, 10, 1000], "range": [53, 263, 663, 898, 1165], "nice": false}, "axis": null},
    "y": {"datum": 36, "type": "quantitative", "scale": {"domain": [0, 129], "reverse": true, "nice": false, "zero": false}, "axis": null},
    "text": {"field": "regime"}}}
 ]
}
]
}
